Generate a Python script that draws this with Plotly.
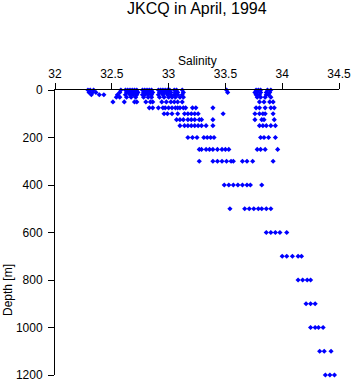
import plotly.graph_objects as go

# Salinity values observed at each depth level (m)
s_0 = [32.29, 32.31, 32.34, 32.58, 32.62, 32.64, 32.66, 32.68, 32.70, 32.72, 32.77, 32.79, 32.81,
       32.83, 32.85, 32.91, 32.93, 32.95, 32.97, 32.99, 33.01, 33.05, 33.07, 33.12, 33.51, 33.77,
       33.79, 33.81, 33.87, 33.90]
s_10 = [32.30, 32.33, 32.36, 32.57, 32.63, 32.65, 32.67, 32.69, 32.71, 32.73, 32.78, 32.80, 32.82,
        32.84, 32.86, 32.92, 32.94, 32.96, 32.98, 33.00, 33.02, 33.06, 33.08, 33.13, 33.52, 33.76,
        33.78, 33.81, 33.86, 33.89]
s_20 = [32.32, 32.39, 32.43, 32.55, 32.62, 32.66, 32.69, 32.72, 32.77, 32.79, 32.82, 32.85, 32.91,
        32.95, 32.99, 33.02, 33.05, 33.08, 33.12, 33.77, 33.80, 33.86, 33.88]
s_30 = [32.54, 32.57, 32.63, 32.67, 32.71, 32.78, 32.82, 32.85, 32.92, 32.96, 33.00, 33.03, 33.06,
        33.10, 33.13, 33.78, 33.81, 33.85, 33.90]
s_50 = [32.51, 32.61, 32.70, 32.72, 32.80, 32.84, 32.86, 32.94, 32.98, 33.02, 33.05, 33.08, 33.12,
        33.80, 33.84, 33.89, 33.92]
s_75 = [32.83, 32.86, 32.91, 32.95, 32.97, 33.00, 33.03, 33.06, 33.08, 33.10, 33.13, 33.15, 33.21,
        33.24, 33.39, 33.77, 33.80, 33.85, 33.90, 33.93]
s_100 = [32.96, 32.99, 33.03, 33.08, 33.14, 33.17, 33.20, 33.23, 33.26, 33.48, 33.76, 33.80, 33.83,
         33.85, 33.92]
s_125 = [33.07, 33.10, 33.13, 33.17, 33.20, 33.23, 33.27, 33.29, 33.39, 33.76, 33.82, 33.84, 33.93]
s_150 = [33.10, 33.14, 33.17, 33.20, 33.23, 33.26, 33.29, 33.33, 33.39, 33.80, 33.83, 33.86, 33.90,
         33.94]
s_200 = [33.17, 33.21, 33.25, 33.31, 33.34, 33.37, 33.40, 33.81, 33.84, 33.88, 33.94]
s_250 = [33.27, 33.29, 33.33, 33.36, 33.39, 33.43, 33.47, 33.50, 33.53, 33.78, 33.81, 33.85, 33.96]
s_300 = [33.27, 33.39, 33.43, 33.47, 33.51, 33.55, 33.57, 33.65, 33.69, 33.74, 33.92]
s_400 = [33.49, 33.53, 33.57, 33.61, 33.65, 33.69, 33.72, 33.82]
s_500 = [33.54, 33.67, 33.71, 33.75, 33.79, 33.82, 33.86, 33.90]
s_600 = [33.86, 33.90, 33.94, 33.98, 34.04]
s_700 = [34.00, 34.04, 34.09, 34.14, 34.17]
s_800 = [34.14, 34.18, 34.22, 34.25]
s_900 = [34.21, 34.25, 34.29]
s_1000 = [34.25, 34.29, 34.32, 34.36]
s_1100 = [34.33, 34.37, 34.43]
s_1200 = [34.38, 34.42, 34.46]

depth_levels = [0, 10, 20, 30, 50, 75, 100, 125, 150, 200, 250, 300, 400, 500, 600, 700, 800,
                900, 1000, 1100, 1200]
salinity_by_level = [s_0, s_10, s_20, s_30, s_50, s_75, s_100, s_125, s_150, s_200, s_250, s_300,
                     s_400, s_500, s_600, s_700, s_800, s_900, s_1000, s_1100, s_1200]

x_ticks = [32, 32.5, 33, 33.5, 34, 34.5]
x_ticktext = ["32", "32.5", "33", "33.5", "34", "34.5"]
y_ticks = [0, 200, 400, 600, 800, 1000, 1200]

xs, ys = [], []
for d, sl in zip(depth_levels, salinity_by_level):
    for s in sl:
        xs.append(s)
        ys.append(d)

FONT = "Liberation Sans, Arial, sans-serif"

fig = go.Figure(go.Scatter(
    x=xs, y=ys, mode="markers",
    marker=dict(symbol="diamond", size=4, color="#0000FF", line=dict(width=0)),
    cliponaxis=False, showlegend=False,
))

L, R, T, B = 55, 14, 90, 9
W, H = 353, 384
pw, ph = W - L - R, H - T - B

def px_to_paper_y(py):
    return (H - B - py) / ph

def px_to_paper_x(px):
    return (px - L) / pw

fig.update_layout(
    width=W, height=H,
    margin=dict(l=L, r=R, t=T, b=B, pad=0, autoexpand=False),
    paper_bgcolor="white", plot_bgcolor="white",
    font=dict(family=FONT, size=12, color="black"),
    xaxis=dict(
        side="top", range=[32, 34.5], tickvals=x_ticks, ticktext=x_ticktext,
        showline=True, linecolor="black", linewidth=1, ticks="outside", ticklen=6,
        tickcolor="black", tickwidth=1, showgrid=False, zeroline=False,
        tickfont=dict(size=12), automargin=False,
    ),
    yaxis=dict(
        range=[1200, 0], tickvals=y_ticks, showline=True, linecolor="black", linewidth=1,
        ticks="outside", ticklen=6, tickcolor="black", tickwidth=1, showgrid=False,
        zeroline=False, tickfont=dict(size=12), ticklabelstandoff=3, automargin=False,
    ),
    annotations=[
        dict(text="JKCQ in April, 1994", xref="paper", yref="paper",
             x=0.5, y=px_to_paper_y(8), xanchor="center", yanchor="middle",
             showarrow=False, font=dict(size=16)),
        dict(text="Salinity", xref="paper", yref="paper",
             x=0.5, y=px_to_paper_y(61), xanchor="center", yanchor="middle",
             showarrow=False, font=dict(size=12)),
        dict(text="Depth [m]", xref="paper", yref="paper", textangle=-90,
             x=px_to_paper_x(8), y=px_to_paper_y(290), xanchor="center", yanchor="middle",
             showarrow=False, font=dict(size=12)),
    ],
)

fig.write_html("out.html")
